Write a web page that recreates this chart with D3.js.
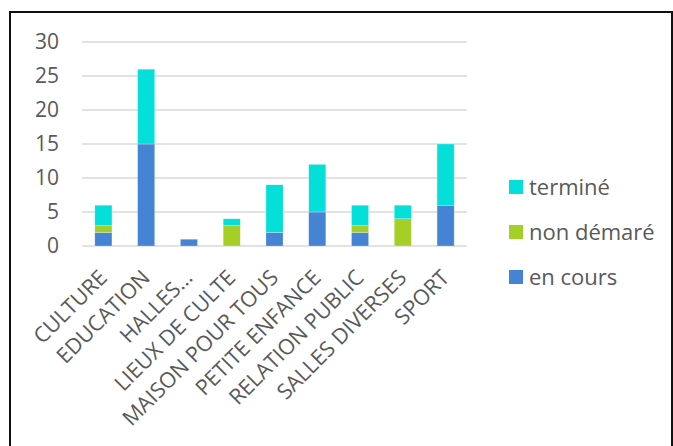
<!DOCTYPE html>
<html>
<head>
<meta charset="utf-8">
<script src="https://cdn.jsdelivr.net/npm/d3@7"></script>
<style>
  body { margin: 0; background: #fff; }
  text { font-family: "Open Sans", sans-serif; fill: #595959; }
</style>
</head>
<body>
<script>
// chart data
var categories = ["CULTURE", "EDUCATION", "HALLES…", "LIEUX DE CULTE", "MAISON POUR TOUS",
                  "PETITE ENFANCE", "RELATION PUBLIC", "SALLES DIVERSES", "SPORT"];
var enCours    = [2, 15, 1, 0, 2, 5, 2, 0, 6];
var nonDemare  = [1, 0, 0, 3, 0, 0, 1, 4, 0];
var termine    = [3, 11, 0, 1, 7, 7, 3, 2, 9];
var yTicks     = [0, 5, 10, 15, 20, 25, 30];
var seriesNames = ["en cours", "non démaré", "terminé"];
var seriesColors = ["#4584d3", "#a5cf27", "#04dfd9"];

var width = 673, height = 446;

var svg = d3.select("body").append("svg")
    .attr("width", width)
    .attr("height", height);

// outer frame
svg.append("rect")
    .attr("x", 10).attr("y", 12)
    .attr("width", 662).attr("height", 460)
    .attr("fill", "none")
    .attr("stroke", "#111")
    .attr("stroke-width", 2);

var xScale = d3.scaleBand()
    .domain(categories)
    .range([82, 467])
    .paddingInner(0.6)
    .paddingOuter(0.3);

var yScale = d3.scaleLinear()
    .domain([0, 30])
    .range([246, 42]);

// gridlines
svg.append("g")
    .selectAll("line")
    .data(yTicks)
    .enter()
    .append("line")
    .attr("x1", 82).attr("x2", 467)
    .attr("y1", function(d){ return yScale(d); })
    .attr("y2", function(d){ return yScale(d); })
    .attr("stroke", "#d9d9d9")
    .attr("stroke-width", 1.5);

// y axis labels
var yAxis = d3.axisLeft(yScale)
    .tickValues(yTicks)
    .tickSize(0)
    .tickPadding(0);

var axis = svg.append("g")
    .attr("transform", "translate(59,0)")
    .call(yAxis);
axis.select(".domain").remove();
axis.selectAll("text")
    .attr("font-size", 21)
    .attr("fill", "#595959")
    .style("font-family", "'Open Sans', sans-serif");

// stacked bars
var rows = categories.map(function(c, i){
    return { cat: c, "en cours": enCours[i], "non démaré": nonDemare[i], "terminé": termine[i] };
});
var stack = d3.stack().keys(seriesNames)(rows);

svg.append("g")
    .selectAll("g")
    .data(stack)
    .enter()
    .append("g")
    .attr("fill", function(d, i){ return seriesColors[i]; })
    .selectAll("rect")
    .data(function(d){ return d.filter(function(s){ return s[1] > s[0]; }); })
    .enter()
    .append("rect")
    .attr("x", function(d){ return xScale(d.data.cat); })
    .attr("width", xScale.bandwidth())
    .attr("y", function(d){ return yScale(d[1]); })
    .attr("height", function(d){ return yScale(d[0]) - yScale(d[1]); })
    .attr("stroke", "#fff")
    .attr("stroke-opacity", 0.5)
    .attr("stroke-width", 0.5);

// category labels, rotated
svg.append("g")
    .selectAll("text")
    .data(categories)
    .enter()
    .append("text")
    .attr("text-anchor", "end")
    .attr("font-size", 21.5)
    .attr("transform", function(d){
        var cx = xScale(d) + xScale.bandwidth() / 2;
        return "translate(" + (cx + 5) + ",279) rotate(-45)";
    })
    .text(function(d){ return d; });

// legend
var legendOrder = [2, 1, 0];
var legend = svg.append("g")
    .selectAll("g")
    .data(legendOrder)
    .enter()
    .append("g")
    .attr("transform", function(d, i){ return "translate(509," + (187 + i * 45) + ")"; });

legend.append("rect")
    .attr("x", 0).attr("y", -7)
    .attr("width", 14).attr("height", 14)
    .attr("fill", function(d){ return seriesColors[d]; });

legend.append("text")
    .attr("x", 20)
    .attr("y", 7.5)
    .attr("font-size", 22)
    .text(function(d){ return seriesNames[d]; });
</script>
</body>
</html>
